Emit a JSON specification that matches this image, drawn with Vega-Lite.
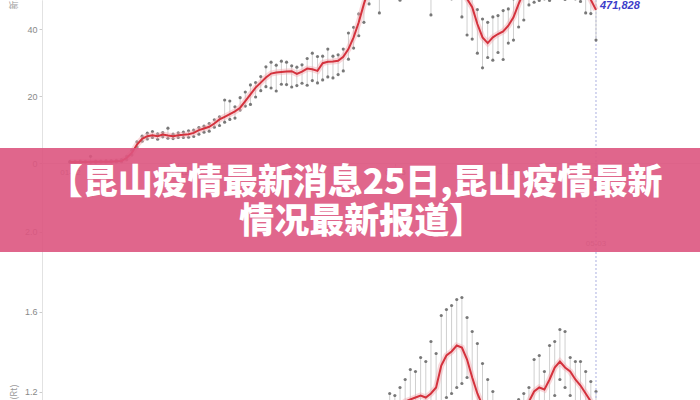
{
  "$schema": "https://vega.github.io/schema/vega-lite/v6.json",
  "width": 658,
  "height": 400,
  "autosize": "none",
  "padding": {"left": 42, "top": 0, "right": 0, "bottom": 0},
  "background": "white",
  "config": {
    "view": {"stroke": null},
    "axis": {"labelColor": "#888888", "labelFontSize": 9, "labelFont": "Liberation Sans", "tickColor": "#cccccc", "tickSize": 3, "domainColor": "#e2e2e2", "grid": false, "labelPadding": 2, "titleColor": "#999999", "titleFontSize": 9, "titleFont": "Noto Sans CJK SC", "titleFontWeight": "normal"}
  },
  "datasets": {
    "top": [
      {"date": "2020-01-22", "m": 0.3, "hi": 0.5, "lo": 0.2},
      {"date": "2020-01-23", "m": 0.3, "hi": 0.5, "lo": 0.2},
      {"date": "2020-01-24", "m": 0.3, "hi": 0.6, "lo": 0.2},
      {"date": "2020-01-25", "m": 0.3, "hi": 0.5, "lo": 0.2},
      {"date": "2020-01-26", "m": 0.4, "hi": 2.0, "lo": 0.2},
      {"date": "2020-01-27", "m": 0.4, "hi": 0.6, "lo": 0.2},
      {"date": "2020-01-28", "m": 0.4, "hi": 0.6, "lo": 0.3},
      {"date": "2020-01-29", "m": 0.4, "hi": 0.7, "lo": 0.3},
      {"date": "2020-01-30", "m": 0.4, "hi": 0.7, "lo": 0.3},
      {"date": "2020-01-31", "m": 0.5, "hi": 0.8, "lo": 0.3},
      {"date": "2020-02-01", "m": 0.6, "hi": 1.0, "lo": 0.4},
      {"date": "2020-02-02", "m": 1.5, "hi": 2.0, "lo": 1.0},
      {"date": "2020-02-03", "m": 3.0, "hi": 3.8, "lo": 2.4},
      {"date": "2020-02-04", "m": 5.5, "hi": 6.3, "lo": 4.8},
      {"date": "2020-02-05", "m": 7.2, "hi": 8.0, "lo": 6.5},
      {"date": "2020-02-06", "m": 8.0, "hi": 8.9, "lo": 7.2},
      {"date": "2020-02-07", "m": 8.3, "hi": 9.4, "lo": 7.6},
      {"date": "2020-02-08", "m": 8.0, "hi": 8.7, "lo": 7.1},
      {"date": "2020-02-09", "m": 8.5, "hi": 9.1, "lo": 7.8},
      {"date": "2020-02-10", "m": 8.2, "hi": 10.4, "lo": 7.4},
      {"date": "2020-02-11", "m": 8.0, "hi": 8.6, "lo": 7.3},
      {"date": "2020-02-12", "m": 8.3, "hi": 9.0, "lo": 7.6},
      {"date": "2020-02-13", "m": 8.4, "hi": 9.2, "lo": 7.6},
      {"date": "2020-02-14", "m": 8.6, "hi": 9.6, "lo": 7.7},
      {"date": "2020-02-15", "m": 9.0, "hi": 9.8, "lo": 7.9},
      {"date": "2020-02-16", "m": 9.8, "hi": 10.6, "lo": 8.6},
      {"date": "2020-02-17", "m": 10.3, "hi": 11.0, "lo": 9.2},
      {"date": "2020-02-18", "m": 10.8, "hi": 11.8, "lo": 9.5},
      {"date": "2020-02-19", "m": 11.8, "hi": 12.9, "lo": 10.7},
      {"date": "2020-02-20", "m": 13.0, "hi": 13.8, "lo": 11.2},
      {"date": "2020-02-21", "m": 13.8, "hi": 18.8, "lo": 12.2},
      {"date": "2020-02-22", "m": 14.6, "hi": 18.5, "lo": 13.0},
      {"date": "2020-02-23", "m": 15.4, "hi": 16.8, "lo": 13.4},
      {"date": "2020-02-24", "m": 16.5, "hi": 19.5, "lo": 15.8},
      {"date": "2020-02-25", "m": 18.5, "hi": 21.2, "lo": 17.0},
      {"date": "2020-02-26", "m": 20.5, "hi": 23.3, "lo": 17.5},
      {"date": "2020-02-27", "m": 22.5, "hi": 24.0, "lo": 19.7},
      {"date": "2020-02-28", "m": 24.0, "hi": 25.8, "lo": 21.6},
      {"date": "2020-02-29", "m": 25.5, "hi": 28.7, "lo": 22.8},
      {"date": "2020-03-01", "m": 26.7, "hi": 30.1, "lo": 22.4},
      {"date": "2020-03-02", "m": 27.0, "hi": 29.2, "lo": 21.5},
      {"date": "2020-03-03", "m": 27.2, "hi": 30.4, "lo": 23.5},
      {"date": "2020-03-04", "m": 27.3, "hi": 30.1, "lo": 23.4},
      {"date": "2020-03-05", "m": 27.4, "hi": 29.0, "lo": 22.7},
      {"date": "2020-03-06", "m": 26.6, "hi": 28.6, "lo": 23.1},
      {"date": "2020-03-07", "m": 27.3, "hi": 29.3, "lo": 23.8},
      {"date": "2020-03-08", "m": 28.2, "hi": 31.2, "lo": 23.2},
      {"date": "2020-03-09", "m": 28.0, "hi": 32.8, "lo": 24.6},
      {"date": "2020-03-10", "m": 27.5, "hi": 31.8, "lo": 23.9},
      {"date": "2020-03-11", "m": 29.8, "hi": 31.9, "lo": 24.8},
      {"date": "2020-03-12", "m": 30.2, "hi": 34.0, "lo": 25.7},
      {"date": "2020-03-13", "m": 30.3, "hi": 31.9, "lo": 25.4},
      {"date": "2020-03-14", "m": 30.5, "hi": 32.3, "lo": 26.4},
      {"date": "2020-03-15", "m": 31.7, "hi": 34.0, "lo": 27.5},
      {"date": "2020-03-16", "m": 34.0, "hi": 38.8, "lo": 31.0},
      {"date": "2020-03-17", "m": 37.5, "hi": 40.5, "lo": 34.3},
      {"date": "2020-03-18", "m": 42.0, "hi": 44.5, "lo": 38.0},
      {"date": "2020-03-19", "m": 47.5, "hi": 50.0, "lo": 42.0},
      {"date": "2020-03-20", "m": 52.0, "hi": 55.0, "lo": 47.5},
      {"date": "2020-03-21", "m": 54.0, "hi": 58.0, "lo": 50.0},
      {"date": "2020-03-22", "m": 55.5, "hi": 59.5, "lo": 44.8},
      {"date": "2020-03-23", "m": 56.5, "hi": 60.0, "lo": 51.5},
      {"date": "2020-03-24", "m": 57.0, "hi": 61.0, "lo": 52.0},
      {"date": "2020-03-25", "m": 57.5, "hi": 62.0, "lo": 50.0},
      {"date": "2020-03-26", "m": 58.0, "hi": 62.5, "lo": 48.6},
      {"date": "2020-03-27", "m": 58.0, "hi": 63.0, "lo": 53.5},
      {"date": "2020-03-28", "m": 58.5, "hi": 63.0, "lo": 52.5},
      {"date": "2020-03-29", "m": 58.0, "hi": 62.5, "lo": 54.0},
      {"date": "2020-03-30", "m": 57.5, "hi": 62.0, "lo": 49.5},
      {"date": "2020-03-31", "m": 57.0, "hi": 61.0, "lo": 52.0},
      {"date": "2020-04-01", "m": 56.5, "hi": 61.0, "lo": 44.2},
      {"date": "2020-04-02", "m": 56.0, "hi": 60.0, "lo": 51.0},
      {"date": "2020-04-03", "m": 55.5, "hi": 60.0, "lo": 51.0},
      {"date": "2020-04-04", "m": 55.0, "hi": 59.0, "lo": 50.0},
      {"date": "2020-04-05", "m": 54.5, "hi": 58.5, "lo": 49.0},
      {"date": "2020-04-06", "m": 53.5, "hi": 58.0, "lo": 49.5},
      {"date": "2020-04-07", "m": 52.0, "hi": 57.0, "lo": 43.6},
      {"date": "2020-04-08", "m": 49.0, "hi": 54.0, "lo": 38.2},
      {"date": "2020-04-09", "m": 46.5, "hi": 50.0, "lo": 37.0},
      {"date": "2020-04-10", "m": 41.5, "hi": 45.8, "lo": 32.8},
      {"date": "2020-04-11", "m": 37.5, "hi": 43.0, "lo": 28.4},
      {"date": "2020-04-12", "m": 35.8, "hi": 42.0, "lo": 31.5},
      {"date": "2020-04-13", "m": 37.5, "hi": 43.6, "lo": 30.7},
      {"date": "2020-04-14", "m": 38.5, "hi": 44.0, "lo": 33.0},
      {"date": "2020-04-15", "m": 39.3, "hi": 45.5, "lo": 30.9},
      {"date": "2020-04-16", "m": 41.0, "hi": 46.0, "lo": 35.8},
      {"date": "2020-04-17", "m": 43.5, "hi": 49.0, "lo": 36.7},
      {"date": "2020-04-18", "m": 47.5, "hi": 52.0, "lo": 40.6},
      {"date": "2020-04-19", "m": 51.0, "hi": 55.0, "lo": 42.7},
      {"date": "2020-04-20", "m": 53.0, "hi": 58.0, "lo": 47.2},
      {"date": "2020-04-21", "m": 54.0, "hi": 59.0, "lo": 48.0},
      {"date": "2020-04-22", "m": 54.5, "hi": 59.5, "lo": 48.5},
      {"date": "2020-04-23", "m": 55.0, "hi": 60.0, "lo": 49.0},
      {"date": "2020-04-24", "m": 55.0, "hi": 60.5, "lo": 48.5},
      {"date": "2020-04-25", "m": 55.5, "hi": 60.0, "lo": 50.0},
      {"date": "2020-04-26", "m": 55.0, "hi": 59.5, "lo": 49.5},
      {"date": "2020-04-27", "m": 54.5, "hi": 60.0, "lo": 48.8},
      {"date": "2020-04-28", "m": 54.5, "hi": 59.0, "lo": 49.2},
      {"date": "2020-04-29", "m": 54.0, "hi": 58.5, "lo": 49.0},
      {"date": "2020-04-30", "m": 53.0, "hi": 58.0, "lo": 48.2},
      {"date": "2020-05-01", "m": 51.5, "hi": 56.5, "lo": 44.8},
      {"date": "2020-05-02", "m": 48.7, "hi": 54.0, "lo": 44.6},
      {"date": "2020-05-03", "m": 45.7, "hi": 52.0, "lo": 36.7}
    ],
    "rt": [
      {"date": "2020-03-20", "m": 1.02, "hi": 1.10, "lo": 0.95},
      {"date": "2020-03-21", "m": 1.04, "hi": 1.11, "lo": 0.96},
      {"date": "2020-03-22", "m": 1.05, "hi": 1.12, "lo": 0.98},
      {"date": "2020-03-23", "m": 1.07, "hi": 1.14, "lo": 1.00},
      {"date": "2020-03-24", "m": 1.09, "hi": 1.19, "lo": 1.00},
      {"date": "2020-03-25", "m": 1.11, "hi": 1.18, "lo": 1.02},
      {"date": "2020-03-26", "m": 1.13, "hi": 1.22, "lo": 1.04},
      {"date": "2020-03-27", "m": 1.15, "hi": 1.26, "lo": 1.05},
      {"date": "2020-03-28", "m": 1.16, "hi": 1.31, "lo": 1.06},
      {"date": "2020-03-29", "m": 1.17, "hi": 1.30, "lo": 1.07},
      {"date": "2020-03-30", "m": 1.18, "hi": 1.37, "lo": 1.05},
      {"date": "2020-03-31", "m": 1.17, "hi": 1.35, "lo": 1.06},
      {"date": "2020-04-01", "m": 1.19, "hi": 1.45, "lo": 1.08},
      {"date": "2020-04-02", "m": 1.22, "hi": 1.39, "lo": 1.10},
      {"date": "2020-04-03", "m": 1.33, "hi": 1.58, "lo": 1.14},
      {"date": "2020-04-04", "m": 1.38, "hi": 1.61, "lo": 1.17},
      {"date": "2020-04-05", "m": 1.40, "hi": 1.63, "lo": 1.19},
      {"date": "2020-04-06", "m": 1.43, "hi": 1.66, "lo": 1.22},
      {"date": "2020-04-07", "m": 1.42, "hi": 1.67, "lo": 1.24},
      {"date": "2020-04-08", "m": 1.36, "hi": 1.57, "lo": 1.27},
      {"date": "2020-04-09", "m": 1.27, "hi": 1.50, "lo": 1.14},
      {"date": "2020-04-10", "m": 1.19, "hi": 1.44, "lo": 1.06},
      {"date": "2020-04-11", "m": 1.13, "hi": 1.34, "lo": 1.02},
      {"date": "2020-04-12", "m": 1.10, "hi": 1.26, "lo": 0.98},
      {"date": "2020-04-13", "m": 1.07, "hi": 1.20, "lo": 0.96},
      {"date": "2020-04-14", "m": 1.05, "hi": 1.15, "lo": 0.95},
      {"date": "2020-04-15", "m": 1.04, "hi": 1.14, "lo": 0.94},
      {"date": "2020-04-16", "m": 1.04, "hi": 1.13, "lo": 0.95},
      {"date": "2020-04-17", "m": 1.05, "hi": 1.15, "lo": 0.96},
      {"date": "2020-04-18", "m": 1.07, "hi": 1.16, "lo": 0.98},
      {"date": "2020-04-19", "m": 1.10, "hi": 1.19, "lo": 1.00},
      {"date": "2020-04-20", "m": 1.15, "hi": 1.22, "lo": 1.04},
      {"date": "2020-04-21", "m": 1.20, "hi": 1.36, "lo": 1.08},
      {"date": "2020-04-22", "m": 1.22, "hi": 1.38, "lo": 1.10},
      {"date": "2020-04-23", "m": 1.21, "hi": 1.30, "lo": 1.08},
      {"date": "2020-04-24", "m": 1.26, "hi": 1.43, "lo": 1.12},
      {"date": "2020-04-25", "m": 1.32, "hi": 1.45, "lo": 1.18},
      {"date": "2020-04-26", "m": 1.35, "hi": 1.51, "lo": 1.26},
      {"date": "2020-04-27", "m": 1.32, "hi": 1.50, "lo": 1.22},
      {"date": "2020-04-28", "m": 1.30, "hi": 1.37, "lo": 1.18},
      {"date": "2020-04-29", "m": 1.26, "hi": 1.35, "lo": 1.15},
      {"date": "2020-04-30", "m": 1.23, "hi": 1.35, "lo": 1.12},
      {"date": "2020-05-01", "m": 1.19, "hi": 1.30, "lo": 1.10},
      {"date": "2020-05-02", "m": 1.15, "hi": 1.25, "lo": 1.06},
      {"date": "2020-05-03", "m": 1.12, "hi": 1.20, "lo": 1.02}
    ]
  },
  "encoding": {
    "x": {
      "field": "date", "type": "temporal", "title": null,
      "scale": {"type": "utc", "domain": [{"year": 2020, "month": 1, "date": 16, "hours": 14, "utc": true}, {"year": 2020, "month": 5, "date": 23, "hours": 4, "utc": true}]},
      "axis": {"format": "%m-%d", "offset": -237, "labelFontSize": 8, "values": [{"year": 2020, "month": 1, "date": 22, "utc": true}, {"year": 2020, "month": 2, "date": 12, "utc": true}, {"year": 2020, "month": 3, "date": 4, "utc": true}, {"year": 2020, "month": 3, "date": 25, "utc": true}, {"year": 2020, "month": 4, "date": 15, "utc": true}]}
    }
  },
  "layer": [
    {
      "data": {"name": "rt"},
      "layer": [
        {
          "mark": {"type": "rule", "color": "#cfcfcf", "strokeWidth": 1},
          "encoding": {
            "y": {"field": "lo", "type": "quantitative", "scale": {"domain": [1.1575, 3.1575], "nice": false, "zero": false},
                  "axis": {"orient": "left", "values": [1.2, 1.6, 2.0], "format": ".1f", "title": "有效再生数 (Rt)", "titleAngle": -90, "titleAlign": "right", "titleBaseline": "middle", "titleX": -29, "titleY": 384}},
            "y2": {"field": "hi"}
          }
        },
        {
          "mark": {"type": "circle", "color": "#6a6a6a", "size": 10, "opacity": 0.9},
          "encoding": {"y": {"field": "hi", "type": "quantitative", "scale": {"domain": [1.1575, 3.1575], "nice": false, "zero": false}, "title": "有效再生数 (Rt)"}}
        },
        {
          "mark": {"type": "circle", "color": "#6a6a6a", "size": 10, "opacity": 0.9},
          "encoding": {"y": {"field": "lo", "type": "quantitative", "scale": {"domain": [1.1575, 3.1575], "nice": false, "zero": false}, "title": "有效再生数 (Rt)"}}
        },
        {
          "mark": {"type": "line", "color": "#f2a9b0", "strokeWidth": 6, "opacity": 0.45},
          "encoding": {"y": {"field": "m", "type": "quantitative", "scale": {"domain": [1.1575, 3.1575], "nice": false, "zero": false}, "title": "有效再生数 (Rt)"}}
        },
        {
          "mark": {"type": "line", "color": "#d4323d", "strokeWidth": 2},
          "encoding": {"y": {"field": "m", "type": "quantitative", "scale": {"domain": [1.1575, 3.1575], "nice": false, "zero": false}, "title": "有效再生数 (Rt)"}}
        },
        {
          "data": {"values": [{"date": "2020-05-03"}]},
          "mark": {"type": "rule", "color": "#aab0e0", "strokeWidth": 1, "strokeDash": [2, 2]},
          "encoding": {}
        },
        {
          "data": {"values": [{"date": "2020-05-03", "label": "05-03"}]},
          "mark": {"type": "text", "fontSize": 8, "color": "#999999", "font": "Liberation Sans", "align": "center", "baseline": "middle"},
          "encoding": {
            "text": {"field": "label"},
            "y": {"datum": 1.94, "type": "quantitative", "scale": {"domain": [1.1575, 3.1575], "nice": false, "zero": false}, "title": "有效再生数 (Rt)"}
          }
        }
      ]
    },
    {
      "data": {"name": "top"},
      "layer": [
        {
          "mark": {"type": "rule", "color": "#cfcfcf", "strokeWidth": 1},
          "encoding": {
            "y": {"field": "lo", "type": "quantitative", "scale": {"domain": [-70.75, 48.66], "nice": false, "zero": false},
                  "axis": {"orient": "left", "values": [0, 20, 40], "title": "新增确诊（千例）", "titleAngle": -90, "titleAlign": "left", "titleBaseline": "middle", "titleX": -29, "titleY": 9}},
            "y2": {"field": "hi"}
          }
        },
        {
          "mark": {"type": "circle", "color": "#6a6a6a", "size": 10, "opacity": 0.9},
          "encoding": {"y": {"field": "hi", "type": "quantitative", "scale": {"domain": [-70.75, 48.66], "nice": false, "zero": false}, "title": "新增确诊（千例）"}}
        },
        {
          "mark": {"type": "circle", "color": "#6a6a6a", "size": 10, "opacity": 0.9},
          "encoding": {"y": {"field": "lo", "type": "quantitative", "scale": {"domain": [-70.75, 48.66], "nice": false, "zero": false}, "title": "新增确诊（千例）"}}
        },
        {
          "mark": {"type": "line", "color": "#f2a9b0", "strokeWidth": 6, "opacity": 0.45},
          "encoding": {"y": {"field": "m", "type": "quantitative", "scale": {"domain": [-70.75, 48.66], "nice": false, "zero": false}, "title": "新增确诊（千例）"}}
        },
        {
          "mark": {"type": "line", "color": "#d4323d", "strokeWidth": 2},
          "encoding": {"y": {"field": "m", "type": "quantitative", "scale": {"domain": [-70.75, 48.66], "nice": false, "zero": false}, "title": "新增确诊（千例）"}}
        },
        {
          "data": {"values": [{"date": "2020-05-03", "label": "471,828"}]},
          "mark": {"type": "text", "fontSize": 11, "fontStyle": "italic", "fontWeight": "bold", "color": "#3d3dc9", "font": "Liberation Sans", "align": "left", "baseline": "middle", "dx": 4},
          "encoding": {
            "text": {"field": "label"},
            "y": {"datum": 46.9, "type": "quantitative", "scale": {"domain": [-70.75, 48.66], "nice": false, "zero": false}, "title": "新增确诊（千例）"}
          }
        },
        {
          "data": {"values": [{"date": "2020-01-01", "date2": "2020-06-30"}]},
          "mark": {"type": "rect", "color": "#dd557f", "opacity": 0.9, "clip": false},
          "encoding": {
            "x2": {"field": "date2"},
            "y": {"datum": 4.48, "type": "quantitative", "scale": {"domain": [-70.75, 48.66], "nice": false, "zero": false}, "title": "新增确诊（千例）"},
            "y2": {"datum": -26.57}
          }
        },
        {
          "data": {"values": [{"date": "2020-03-17T07:00:00Z", "line": "【昆山疫情最新消息25日,昆山疫情最新"}]},
          "mark": {"type": "text", "fontSize": 35, "font": "Noto Sans CJK SC", "fontWeight": 900, "color": "white", "align": "center", "baseline": "middle"},
          "encoding": {
            "text": {"field": "line"},
            "y": {"datum": -5.97, "type": "quantitative", "scale": {"domain": [-70.75, 48.66], "nice": false, "zero": false}, "title": "新增确诊（千例）"}
          }
        },
        {
          "data": {"values": [{"date": "2020-03-18T14:00:00Z", "line": "情况最新报道】"}]},
          "mark": {"type": "text", "fontSize": 35, "font": "Noto Sans CJK SC", "fontWeight": 900, "color": "white", "align": "center", "baseline": "middle"},
          "encoding": {
            "text": {"field": "line"},
            "y": {"datum": -17.6, "type": "quantitative", "scale": {"domain": [-70.75, 48.66], "nice": false, "zero": false}, "title": "新增确诊（千例）"}
          }
        }
      ]
    }
  ],
  "resolve": {"scale": {"y": "independent"}, "axis": {"y": "independent"}}
}
